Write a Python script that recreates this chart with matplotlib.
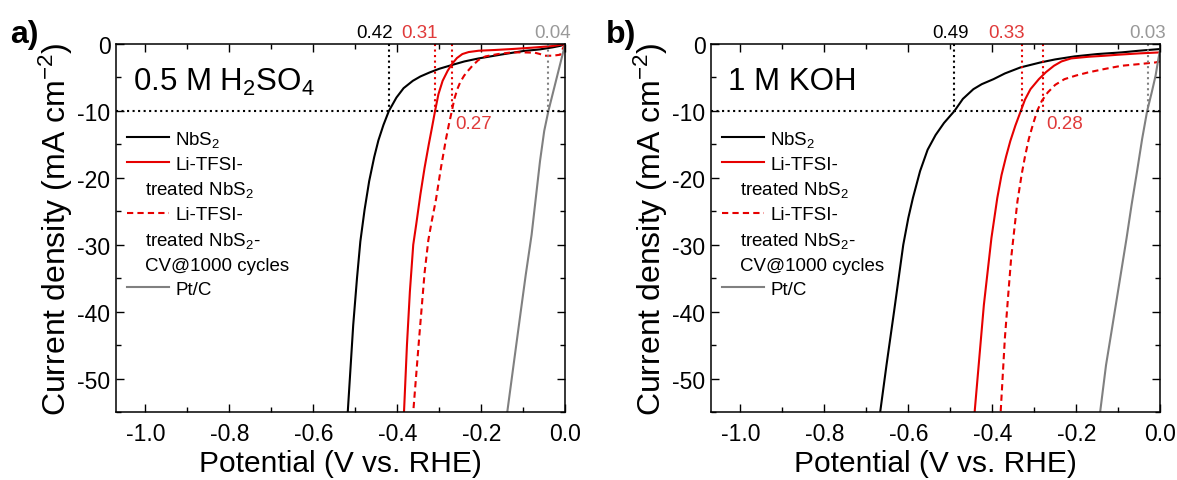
import matplotlib
matplotlib.use('Agg')
import matplotlib.pyplot as plt
from matplotlib.lines import Line2D
from matplotlib.ticker import MultipleLocator, FormatStrFormatter

plt.rcParams['font.family'] = ['Liberation Sans', 'DejaVu Sans']
plt.rcParams['axes.unicode_minus'] = False
plt.rcParams['mathtext.fontset'] = 'custom'
plt.rcParams['mathtext.rm'] = 'Liberation Sans'
plt.rcParams['mathtext.it'] = 'Liberation Sans:italic'
plt.rcParams['mathtext.default'] = 'regular'

RED = '#e60000'
GRAY = '#808080'
RED_TXT = '#e03a3a'
GRAY_TXT = '#999999'

# ---- panel a: 0.5 M H2SO4 ----
a_nbs2_x = [0, -0.01, -0.03, -0.06, -0.10, -0.15, -0.206, -0.24, -0.268, -0.30, -0.323, -0.345,
            -0.363, -0.385, -0.402, -0.42, -0.433, -0.445, -0.455, -0.467, -0.478, -0.488,
            -0.496, -0.505, -0.512, -0.518]
a_nbs2_y = [0, -0.25, -0.5, -0.8, -1.05, -1.55, -2.15, -2.6, -3.1, -3.7, -4.25, -4.85,
            -5.5, -6.6, -8.0, -10, -12.1, -14.4, -16.9, -20.5, -24.8, -29.5,
            -35, -42, -49, -55]
a_li_x = [0, -0.03, -0.08, -0.127, -0.17, -0.206, -0.23, -0.245, -0.258, -0.27, -0.28, -0.292,
          -0.302, -0.31, -0.318, -0.325, -0.335, -0.345, -0.355, -0.362, -0.37, -0.377, -0.384]
a_li_y = [0, -0.3, -0.55, -0.75, -0.9, -1.0, -1.2, -1.5, -2.1, -3.0, -4.0, -5.5,
          -7.5, -10, -12.7, -15, -18.5, -22.5, -27, -30, -37, -45, -55]
a_cv_x = [0, -0.005, -0.012, -0.03, -0.049, -0.06, -0.072, -0.1, -0.127, -0.16, -0.19, -0.207,
          -0.221, -0.233, -0.241, -0.25, -0.257, -0.264, -0.27, -0.277, -0.284, -0.296,
          -0.308, -0.318, -0.326, -0.335, -0.348, -0.362]
a_cv_y = [0, -0.6, -1.6, -1.75, -1.75, -1.5, -1.3, -1.25, -1.25, -1.5, -1.85, -2.4,
          -3.25, -4.1, -4.75, -5.7, -6.75, -8.2, -10, -12, -14.2, -18.5,
          -23.3, -26.5, -29.3, -34.2, -44, -55]
a_pt_x = [0, -0.01, -0.02, -0.03, -0.04, -0.05, -0.06, -0.07, -0.08, -0.094, -0.107, -0.122, -0.138]
a_pt_y = [0, -2.5, -5, -7.5, -10, -13, -17.5, -23, -28.5, -34.5, -40.5, -47.5, -55]
a_eta = [0.42, 0.31, 0.27, 0.04]

# ---- panel b: 1 M KOH ----
b_nbs2_x = [0, -0.05, -0.092, -0.15, -0.204, -0.25, -0.285, -0.333, -0.37, -0.397, -0.425,
            -0.445, -0.47, -0.49, -0.515, -0.535, -0.554, -0.572, -0.589, -0.60, -0.612,
            -0.623, -0.634, -0.652, -0.667]
b_nbs2_y = [-0.75, -1.0, -1.25, -1.5, -1.85, -2.3, -2.75, -3.5, -4.4, -5.25, -6.0,
            -6.75, -8.2, -10, -11.8, -13.6, -15.8, -19, -23, -26, -30,
            -35, -40, -48, -55]
b_li_x = [0, -0.05, -0.1, -0.132, -0.17, -0.212, -0.235, -0.253, -0.272, -0.289, -0.309,
          -0.322, -0.332, -0.345, -0.357, -0.367, -0.378, -0.388, -0.402, -0.42, -0.442]
b_li_y = [-1.25, -1.4, -1.6, -1.75, -1.9, -2.15, -2.6, -3.25, -4.2, -5.25, -6.75,
          -8.3, -10, -12.2, -14.5, -16.8, -19.6, -23, -29, -39, -55]
b_cv_x = [0, -0.011, -0.05, -0.092, -0.13, -0.172, -0.2, -0.228, -0.25, -0.268, -0.282,
          -0.293, -0.303, -0.313, -0.322, -0.33, -0.34, -0.348, -0.355, -0.362, -0.37, -0.38]
b_cv_y = [-2.6, -2.75, -3.0, -3.25, -3.7, -4.25, -4.7, -5.25, -6.1, -7.25, -8.5,
          -10, -12, -14.2, -16.8, -19.5, -23.5, -28, -32, -37.5, -44, -55]
b_pt_x = [0, -0.005, -0.011, -0.02, -0.031, -0.043, -0.055, -0.068, -0.08, -0.098, -0.116, -0.129, -0.143]
b_pt_y = [-0.75, -2.5, -4.75, -7.2, -10, -14.2, -19, -24, -29, -36, -43, -48, -55]
b_eta = [0.49, 0.33, 0.28, 0.03]

J_REF = -10
leg_labels = ['NbS$_2$', 'Li-TFSI-', 'treated NbS$_2$', 'Li-TFSI-',
              'treated NbS$_2$-', 'CV@1000 cycles', 'Pt/C']
wrapped = [2, 4, 5]  # continuation rows of the legend


def draw_panel(ax, curves, eta, title, black_dx):
    (nx, ny), (lx, ly), (cx, cy), (px, py) = curves
    ax.plot(nx, ny, color='black', lw=1.5)
    ax.plot(lx, ly, color=RED, lw=1.5)
    ax.plot(cx, cy, color=RED, lw=1.5, ls=(0, (3, 2)))
    ax.plot(px, py, color=GRAY, lw=1.5)

    ax.axhline(J_REF, color='black', ls=':', lw=1.5)
    line_cols = ['black', RED, RED, GRAY]
    for v, c in zip(eta, line_cols):
        ax.plot([-v, -v], [0, J_REF], color=c, ls=':', lw=1.5)

    # overpotential labels
    kw = dict(textcoords='offset points', fontsize=13.5, annotation_clip=False)
    ax.annotate(f'{eta[0]:.2f}', (-eta[0], 0), xytext=(black_dx, 2.5),
                ha='right', va='bottom', color='black', **kw)
    ax.annotate(f'{eta[1]:.2f}', (-eta[1], 0), xytext=(2, 2.5),
                ha='right', va='bottom', color=RED_TXT, **kw)
    ax.annotate(f'{eta[3]:.2f}', (0, 0), xytext=(4, 2.5),
                ha='right', va='bottom', color=GRAY_TXT, **kw)
    ax.annotate(f'{eta[2]:.2f}', (-eta[2], J_REF), xytext=(2.5, -3),
                ha='left', va='top', color=RED_TXT, **kw)

    ax.text(0.038, 0.94, title, transform=ax.transAxes, fontsize=22.5, va='top', ha='left')

    ax.set_xlim(-1.07, 0)
    ax.set_ylim(-55, 0)
    ax.xaxis.set_major_locator(MultipleLocator(0.2))
    ax.xaxis.set_minor_locator(MultipleLocator(0.1))
    ax.yaxis.set_major_locator(MultipleLocator(10))
    ax.yaxis.set_minor_locator(MultipleLocator(5))
    ax.xaxis.set_major_formatter(FormatStrFormatter('%.1f'))
    ax.tick_params(which='both', direction='in', top=True, right=True, width=1.0)
    ax.tick_params(which='major', length=6, labelsize=16.5)
    ax.tick_params(which='minor', length=3.5)
    ax.tick_params(axis='x', which='major', pad=7)
    ax.tick_params(axis='y', which='major', pad=4)
    for s in ax.spines.values():
        s.set_linewidth(1.1)
    ax.set_xlabel('Potential (V vs. RHE)', fontsize=21.5)
    ax.xaxis.set_label_coords(0.5, -0.1)
    ax.set_ylabel('Current density (mA cm$^{-2}$)', fontsize=23)
    ax.yaxis.set_label_coords(-0.092, 0.5)

    blank = Line2D([], [], color='none')
    handles = [Line2D([], [], color='black', lw=1.5),
               Line2D([], [], color=RED, lw=1.5), blank,
               Line2D([], [], color=RED, lw=1.5, ls=(0, (3, 2))), blank, blank,
               Line2D([], [], color=GRAY, lw=1.5)]
    leg = ax.legend(handles, leg_labels, loc='upper left', bbox_to_anchor=(0.0, 0.8),
                    frameon=False, fontsize=13.5, handlelength=2.2, handletextpad=0.35,
                    labelspacing=0.36, borderaxespad=0.2)
    # continuation lines start a bit left of the first-line text
    for i in wrapped:
        leg.get_texts()[i].set_x(-30)


fig = plt.figure(figsize=(11.77, 4.81), dpi=100)
ax_a = fig.add_axes([0.0986, 0.1414, 0.3816, 0.765])
ax_b = fig.add_axes([0.6041, 0.1414, 0.3816, 0.765])

draw_panel(ax_a, [(a_nbs2_x, a_nbs2_y), (a_li_x, a_li_y), (a_cv_x, a_cv_y), (a_pt_x, a_pt_y)],
           a_eta, '0.5 M H$_2$SO$_4$', 3)
draw_panel(ax_b, [(b_nbs2_x, b_nbs2_y), (b_li_x, b_li_y), (b_cv_x, b_cv_y), (b_pt_x, b_pt_y)],
           b_eta, '1 M KOH', 10)

fig.text(0.009, 0.928, 'a)', fontsize=23, fontweight='bold', va='center', ha='left')
fig.text(0.515, 0.928, 'b)', fontsize=23, fontweight='bold', va='center', ha='left')

fig.savefig('out.png', dpi=100)
